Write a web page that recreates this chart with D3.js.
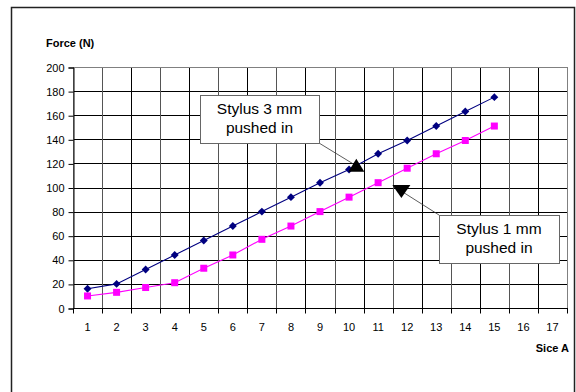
<!DOCTYPE html>
<html>
<head>
<meta charset="utf-8">
<script src="https://cdn.jsdelivr.net/npm/d3@7"></script>
<style>
  body { margin: 0; background: #fff; }
  svg { font-family: "Liberation Sans", Arial, sans-serif; }
</style>
</head>
<body>
<div id="chart"></div>
<script>
// categories on the x axis (1..17) and the two series
const slots = d3.range(1, 18);
const stylus3 = [16, 20, 32, 44, 56, 68, 80, 92, 104, 115, 128, 139, 151, 163, 175];
const stylus1 = [10, 13, 17, 21, 33, 44, 57, 68, 80, 92, 104, 116, 128, 139, 151];
const yTickValues = [0, 20, 40, 60, 80, 100, 120, 140, 160, 180, 200];

// annotation boxes: label lines, the point (slot, value) the arrow sits on
const notes = [
  { lines: ["Stylus 3 mm", "pushed in"], at: [10.25, 118], dir: "up" },
  { lines: ["Stylus 1 mm", "pushed in"], at: [11.8, 97], dir: "down" }
];

const width = 576, height = 392;
const mLeft = 73, mRight = 567, mTop = 67, mBottom = 308;

const svg = d3.select('#chart').append('svg')
  .attr('width', width)
  .attr('height', height);

// outer frame
svg.append('rect')
  .attr('x', 11.5).attr('y', 7.5)
  .attr('width', 563).attr('height', 400)
  .attr('fill', 'none')
  .attr('stroke', '#222')
  .attr('stroke-width', 1.5);

const x = d3.scaleBand().domain(slots).range([mLeft, mRight]);
const xPos = v => x(Math.floor(v)) + x.bandwidth() * (v - Math.floor(v) + 0.5);
const y = d3.scaleLinear().domain([0, 200]).range([mBottom, mTop]);

// horizontal grid
svg.append('g').selectAll('line')
  .data(yTickValues.slice(1))
  .enter().append('line')
  .attr('x1', mLeft).attr('x2', mRight)
  .attr('y1', d => Math.round(y(d)) + 0.5)
  .attr('y2', d => Math.round(y(d)) + 0.5)
  .attr('stroke', '#000');

// vertical grid at category boundaries
svg.append('g').selectAll('line')
  .data(slots.slice(1))
  .enter().append('line')
  .attr('x1', d => Math.round(x(d)) + 0.5)
  .attr('x2', d => Math.round(x(d)) + 0.5)
  .attr('y1', mTop).attr('y2', mBottom)
  .attr('stroke', d => d % 2 === 0 ? '#555' : '#000');

// plot border
svg.append('rect')
  .attr('x', mLeft + 0.5).attr('y', Math.round(mTop) + 0.5)
  .attr('width', mRight - mLeft).attr('height', Math.round(mBottom) - Math.round(mTop))
  .attr('fill', 'none')
  .attr('stroke', '#808080');

// y axis
const yAxis = svg.append('g')
  .attr('transform', `translate(${mLeft + 0.5},0.5)`)
  .call(d3.axisLeft(y).tickValues(yTickValues).tickSize(5).tickPadding(4));
yAxis.select('.domain').attr('stroke', '#000');
yAxis.selectAll('line').attr('stroke', '#000');
yAxis.selectAll('text').attr('font-size', 11).attr('fill', '#000');

// x axis: ticks on boundaries, labels centred in slots
const xAxisG = svg.append('g').attr('transform', `translate(0,${Math.round(mBottom) + 0.5})`);
xAxisG.append('line')
  .attr('x1', mLeft).attr('x2', mRight + 1)
  .attr('stroke', '#000');
xAxisG.selectAll('.tk')
  .data(slots.concat([18]))
  .enter().append('line')
  .attr('x1', d => Math.round(d === 18 ? mRight : x(d)) + 0.5)
  .attr('x2', d => Math.round(d === 18 ? mRight : x(d)) + 0.5)
  .attr('y1', 0).attr('y2', 5)
  .attr('stroke', '#000');
xAxisG.selectAll('text')
  .data(slots)
  .enter().append('text')
  .attr('x', d => xPos(d))
  .attr('y', 22)
  .attr('text-anchor', 'middle')
  .attr('font-size', 11)
  .text(d => d);

// axis titles
svg.append('text')
  .attr('x', 46).attr('y', 47)
  .attr('font-size', 11).attr('font-weight', 'bold')
  .text('Force (N)');
svg.append('text')
  .attr('x', 569).attr('y', 352)
  .attr('text-anchor', 'end')
  .attr('font-size', 11).attr('font-weight', 'bold')
  .text('Sice A');

// lines
const line = d3.line()
  .x((d, i) => xPos(slots[i]))
  .y(d => y(d));

svg.append('path')
  .datum(stylus3)
  .attr('d', line)
  .attr('fill', 'none')
  .attr('stroke', '#000080')
  .attr('stroke-width', 1.1);

svg.append('path')
  .datum(stylus1)
  .attr('d', line)
  .attr('fill', 'none')
  .attr('stroke', '#ff00ff')
  .attr('stroke-width', 1.1);

svg.append('g').selectAll('path')
  .data(stylus3)
  .enter().append('path')
  .attr('transform', (d, i) => `translate(${xPos(slots[i])},${y(d)})`)
  .attr('d', d3.symbol(d3.symbolDiamond2, 40))
  .attr('fill', '#000080');

svg.append('g').selectAll('rect')
  .data(stylus1)
  .enter().append('rect')
  .attr('x', (d, i) => xPos(slots[i]) - 3.5)
  .attr('y', d => y(d) - 3.5)
  .attr('width', 7).attr('height', 7)
  .attr('fill', '#ff00ff');

// annotations
const boxes = [
  { x: 200, y: 95, w: 119, h: 48, lx: 319, ly: 143 },
  { x: 439, y: 215, w: 120, h: 48, lx: 439, ly: 215 }
];

notes.forEach((n, k) => {
  const b = boxes[k];
  const ax = xPos(n.at[0]), ay = y(n.at[1]);
  const tri = n.dir === 'up'
    ? [[ax, ay - 7], [ax - 8, ay + 6], [ax + 8, ay + 6]]
    : [[ax, ay + 7], [ax - 9, ay - 6], [ax + 9, ay - 6]];

  svg.append('line')
    .attr('x1', b.lx).attr('y1', b.ly)
    .attr('x2', ax).attr('y2', ay)
    .attr('stroke', '#333')
    .attr('stroke-width', 0.8);

  svg.append('path')
    .attr('d', 'M' + tri.join('L') + 'Z')
    .attr('fill', '#000');

  svg.append('rect')
    .attr('x', b.x + 0.5).attr('y', b.y + 0.5)
    .attr('width', b.w).attr('height', b.h)
    .attr('fill', '#fff')
    .attr('stroke', '#666')
    .attr('stroke-width', 1);

  n.lines.forEach((t, j) => {
    svg.append('text')
      .attr('x', b.x + b.w / 2)
      .attr('y', b.y + 19 + j * 19)
      .attr('text-anchor', 'middle')
      .attr('font-size', 15.5)
      .text(t);
  });
});
</script>
</body>
</html>
